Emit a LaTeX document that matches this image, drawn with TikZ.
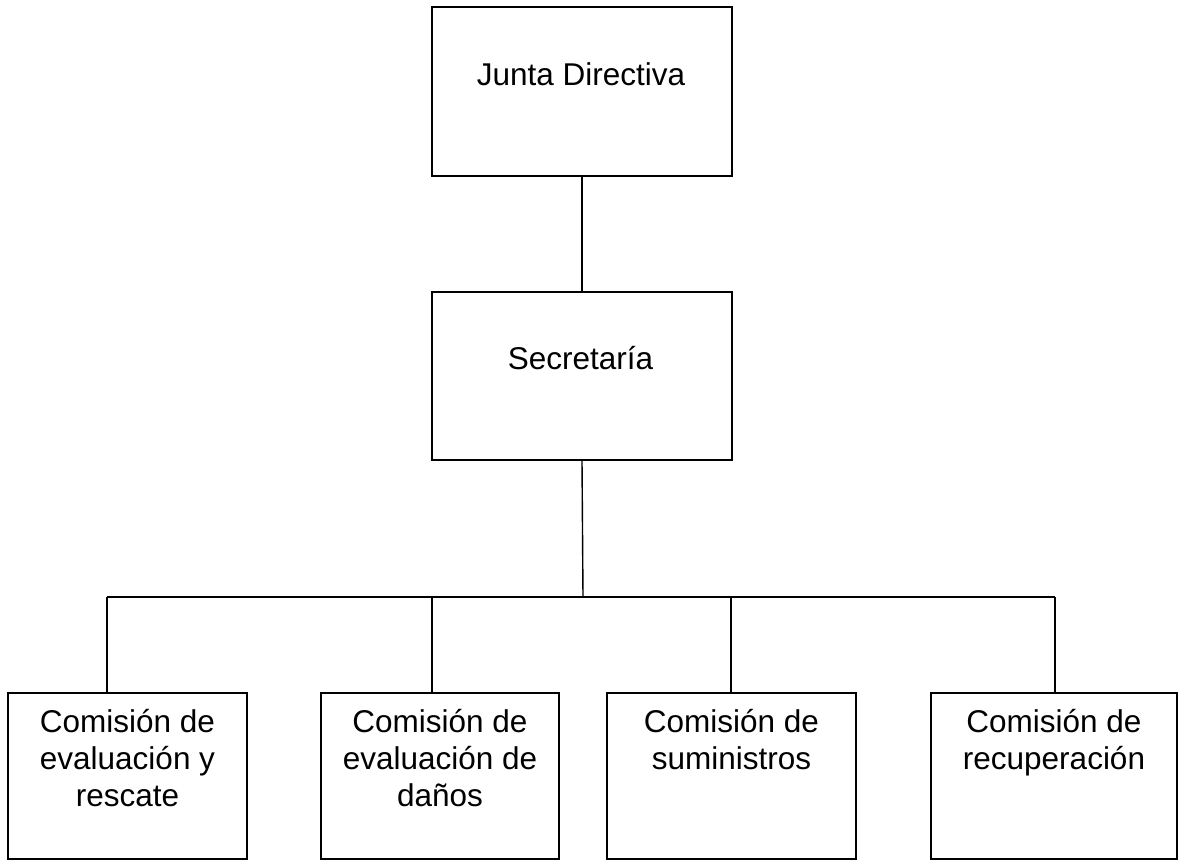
\documentclass[tikz,border=0pt]{standalone}
\usepackage{fontspec}
\setmainfont{Liberation Sans}
\usetikzlibrary{positioning}
\begin{document}
\begin{tikzpicture}[x=1pt,y=-1pt,
  box/.style={draw=black, line width=1.7pt, rectangle, inner sep=0pt},
  lbl/.style={inner sep=0pt, align=center, font=\fontsize{31.5}{37}\selectfont},
  conn/.style={draw=black, line width=1.4pt}]
\useasboundingbox (0,0) rectangle (1179,861);
% top boxes
\node[box, minimum width=300pt, minimum height=169pt] (jd) at (582,91.5) {};
\node[box, minimum width=300pt, minimum height=168pt] (sec) at (582,376) {};
\node[lbl, anchor=base] (jdt) at (581,86) {Junta Directiva};
\node[lbl, anchor=base] (sect) at (580.5,369) {Secretaría};
% bottom boxes
\node[box, minimum width=239pt, minimum height=166pt] (b1) at (127.5,776) {};
\node[box, minimum width=238pt, minimum height=166pt] (b2) at (440,776) {};
\node[box, minimum width=249pt, minimum height=166pt] (b3) at (731.5,776) {};
\node[box, minimum width=246pt, minimum height=166pt] (b4) at (1054,776) {};
\node[lbl, below=14pt of b1.north] (t1) {\rule{0pt}{26pt}Comisión de\\evaluación y\\rescate};
\node[lbl, below=14pt of b2.north] (t2) {\rule{0pt}{26pt}Comisión de\\evaluación de\\daños};
\node[lbl, below=14pt of b3.north] (t3) {\rule{0pt}{26pt}Comisión de\\suministros};
\node[lbl, below=14pt of b4.north] (t4) {\rule{0pt}{26pt}Comisión de\\recuperación};
% connectors
\coordinate (bus) at (583,597);
\coordinate (d1) at (107,597);
\coordinate (d2) at (432,597);
\coordinate (d3) at (731,597);
\coordinate (d4) at (1055,597);
\draw[conn] (jd.south) -- (sec.north);
\draw[conn] (sec.south) -- (bus);
\draw[conn] (d1) -- (d4);
\draw[conn] (d1) -- (d1 |- b1.north);
\draw[conn] (d2) -- (d2 |- b2.north);
\draw[conn] (d3) -- (d3 |- b3.north);
\draw[conn] (d4) -- (d4 |- b4.north);
\end{tikzpicture}
\end{document}
